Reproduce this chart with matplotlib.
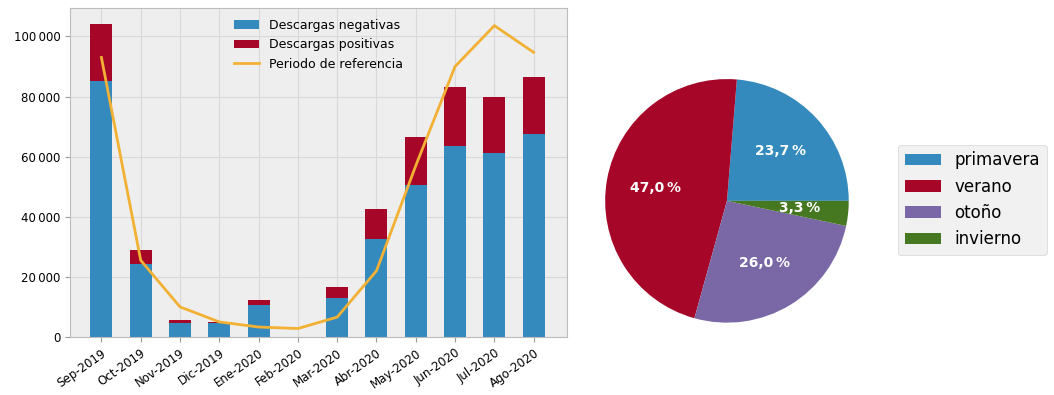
import numpy as np
import matplotlib
matplotlib.use("Agg")
import matplotlib.pyplot as plt
from matplotlib.ticker import FuncFormatter

plt.style.use('bmh')

meses = ['Sep-2019', 'Oct-2019', 'Nov-2019', 'Dic-2019', 'Ene-2020', 'Feb-2020',
         'Mar-2020', 'Abr-2020', 'May-2020', 'Jun-2020', 'Jul-2020', 'Ago-2020']
negativas = [85300, 24400, 4700, 4500, 10500, 0, 12800, 32700, 50600, 63700, 61100, 67600]
positivas = [19000, 4400, 1100, 500, 1900, 0, 3800, 10000, 15900, 19400, 18900, 19000]
referencia = [93000, 25500, 10000, 5000, 3300, 2800, 6600, 22000, 57000, 90000, 103600, 94700]

estaciones = ['primavera', 'verano', 'otoño', 'invierno']
porcentajes = [23.7, 47.0, 26.0, 3.3]

fig = plt.figure(figsize=(10.54, 3.95), dpi=100)

# barras apiladas + curva de referencia
ax = fig.add_axes([0.0664, 0.147, 0.4716, 0.833])
x = np.arange(len(meses))
b1 = ax.bar(x, negativas, width=0.56, color='#348ABD', label='Descargas negativas')
b2 = ax.bar(x, positivas, width=0.56, bottom=negativas, color='#A60628', label='Descargas positivas')
l1, = ax.plot(x, referencia, color='#F2B134', lw=2, label='Periodo de referencia')

ax.set_xlim(-0.8, 11.85)
ax.set_ylim(0, 109500)
ax.set_xticks(x)
ax.set_xticklabels(meses, rotation=35, ha='right', fontsize=8.5, rotation_mode='anchor')
ax.yaxis.set_major_formatter(FuncFormatter(lambda v, p: f'{int(v):,}'.replace(',', '\u2009')))
ax.tick_params(axis='both', direction='out', labelsize=8.5, color='#999999')
ax.grid(True, linestyle='-', color='#d9d9d9', lw=0.8)
ax.set_axisbelow(True)
ax.legend([b1, b2, l1], [b1.get_label(), b2.get_label(), l1.get_label()],
          loc='upper center', fontsize=9, frameon=False)

# tarta por estaciones
ax2 = fig.add_axes([0.573, 0.18, 0.2334, 0.623])
wedges, texts, autotexts = ax2.pie(
    porcentajes, colors=['#348ABD', '#A60628', '#7A68A6', '#467821'],
    startangle=0, autopct=lambda p: f'{p:.1f}'.replace('.', ',') + '\u2009%',
    pctdistance=0.6, wedgeprops=dict(linewidth=0))
for t in autotexts:
    t.set_color('white')
    t.set_fontweight('bold')
    t.set_fontsize(10)
ax2.set_aspect('equal')
ax2.set_xlim(-1.01, 1.01)
ax2.set_ylim(-1.01, 1.01)
ax2.legend(wedges, estaciones, loc='center left', bbox_to_anchor=(0.844, 0.494),
           bbox_transform=fig.transFigure, fontsize=12, handlelength=2.2)

fig.savefig('out.png', dpi=100)
